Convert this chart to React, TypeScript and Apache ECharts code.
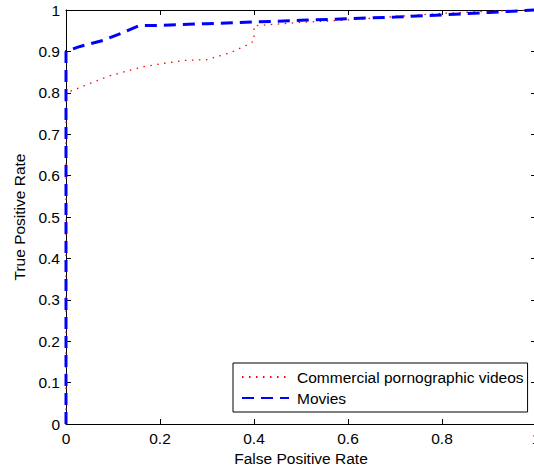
import React, { useEffect, useRef } from "react";
import * as echarts from "echarts";

const seriesNames = ["Commercial pornographic videos", "Movies"];

// [False Positive Rate, True Positive Rate]
const pornROC: number[][] = [
  [0, 0], [0, 0.8], [0.03, 0.813], [0.09, 0.84], [0.16, 0.862], [0.2, 0.87],
  [0.25, 0.878], [0.3, 0.88], [0.35, 0.897], [0.39, 0.918], [0.4, 0.925],
  [0.4, 0.962], [0.5, 0.97], [0.6, 0.976], [0.7, 0.984], [0.8, 0.992],
  [0.9, 0.997], [1, 1],
];

const moviesROC: number[][] = [
  [0, 0], [0, 0.9], [0.03, 0.912], [0.08, 0.927], [0.12, 0.945], [0.155, 0.962],
  [0.2, 0.963], [0.3, 0.967], [0.4, 0.971], [0.5, 0.975], [0.6, 0.979],
  [0.7, 0.983], [0.8, 0.988], [0.9, 0.994], [1, 1],
];

const xTitle = "False Positive Rate";
const yTitle = "True Positive Rate";

const FONT = "Liberation Sans, Arial, Helvetica, sans-serif";
const FS = 15.5;

export default function App() {
  const ref = useRef<HTMLDivElement>(null);
  useEffect(() => {
    if (!ref.current) return;
    const chart = echarts.init(ref.current, undefined, { renderer: "svg" });
    const tickIn = { show: true, inside: true, length: 5, lineStyle: { color: "#000" } };
    const axisLine = { show: true, onZero: false, lineStyle: { color: "#000", width: 1 } };
    chart.setOption({
      animation: false,
      backgroundColor: "#fff",
      textStyle: { fontFamily: FONT },
      grid: { left: 66, top: 10, right: -2, bottom: 44, outerBoundsMode: "none", containLabel: false },
      legend: {
        orient: "vertical",
        left: 233,
        top: 363,
        padding: [6, 4, 6, 8],
        itemGap: 5,
        itemWidth: 47,
        itemHeight: 16,
        borderColor: "#000",
        borderWidth: 1,
        backgroundColor: "#fff",
        itemStyle: { opacity: 0 },
        textStyle: { fontFamily: FONT, fontSize: FS, color: "#000", padding: [0, 0, 0, 3] },
        data: seriesNames,
      },
      xAxis: [
        {
          type: "value",
          min: 0,
          max: 1,
          interval: 0.2,
          position: "bottom",
          name: xTitle,
          nameLocation: "middle",
          nameGap: 25,
          nameTextStyle: { fontFamily: FONT, fontSize: FS, color: "#000" },
          axisLine,
          axisTick: tickIn,
          axisLabel: { fontFamily: FONT, fontSize: FS, color: "#000", margin: 6 },
          splitLine: { show: false },
        },
        {
          type: "value",
          min: 0,
          max: 1,
          interval: 0.2,
          position: "top",
          axisLine,
          axisTick: tickIn,
          axisLabel: { show: false },
          splitLine: { show: false },
        },
      ],
      yAxis: [
        {
          type: "value",
          min: 0,
          max: 1,
          interval: 0.1,
          position: "left",
          name: yTitle,
          nameLocation: "middle",
          nameGap: 36,
          nameTextStyle: { fontFamily: FONT, fontSize: FS, color: "#000" },
          axisLine,
          axisTick: tickIn,
          axisLabel: { fontFamily: FONT, fontSize: FS, color: "#000", margin: 6 },
          splitLine: { show: false },
        },
        {
          type: "value",
          min: 0,
          max: 1,
          interval: 0.1,
          position: "right",
          axisLine,
          axisTick: tickIn,
          axisLabel: { show: false },
          splitLine: { show: false },
        },
      ],
      series: [
        {
          name: seriesNames[0],
          type: "line",
          data: pornROC,
          symbol: "none",
          clip: false,
          itemStyle: { color: "#ff0000" },
          lineStyle: { color: "#ff0000", width: 1.3, type: [1.5, 5.5] },
        },
        {
          name: seriesNames[1],
          type: "line",
          data: moviesROC,
          symbol: "none",
          clip: false,
          itemStyle: { color: "#0000ff" },
          lineStyle: { color: "#0000ff", width: 3, type: [12, 7] },
        },
      ],
    });
    return () => chart.dispose();
  }, []);
  return (
    <div
      ref={ref}
      style={{ position: "fixed", left: 0, top: 0, width: 534, height: 468, background: "#fff" }}
    />
  );
}
